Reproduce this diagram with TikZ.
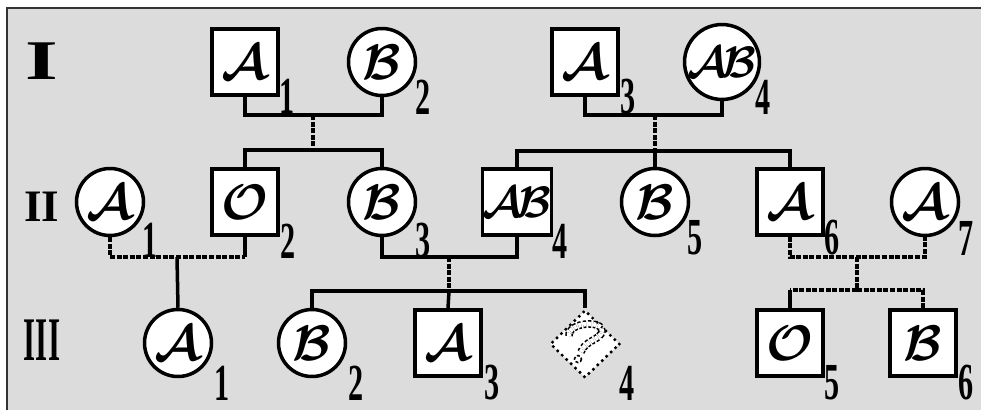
\documentclass[tikz,border=0pt]{standalone}
\usepackage{fontspec}
\setmainfont{Liberation Serif}
\usepackage{amsmath}
\usepackage{graphicx}
\usetikzlibrary{shapes.geometric}
\definecolor{bg}{RGB}{220,220,220}
\newcommand\dgt[1]{\scalebox{0.58}[1]{#1}}
\newcommand\bgt[1]{\scalebox{5}{$\boldsymbol{\mathcal{#1}}$}}
\newcommand\bgtab{\scalebox{4.4}{$\boldsymbol{\mathcal{A}\mkern-2mu\mathcal{B}}$}}
\begin{document}
\begin{tikzpicture}[x=1pt,y=-1pt,
  sq/.style={draw, line width=3.5pt, fill=white, minimum size=66pt, inner sep=0pt},
  ci/.style={draw, circle, line width=3.5pt, fill=white, minimum size=67pt, inner sep=0pt},
  ln/.style={line width=3.5pt},
  dln/.style={line width=3.5pt, dash pattern=on 5pt off 1.6pt},
  num/.style={inner sep=0pt, font=\fontsize{52}{52}\selectfont\bfseries},
  gen/.style={inner sep=0pt}]
\useasboundingbox (0,0) rectangle (981,410);
\fill[bg] (7,8) rectangle (981,410);
\draw[line width=2pt, black!80] (7,410) -- (7,8) -- (981,8);

% Generation labels
\node[gen, font=\fontsize{56}{56}\selectfont\bfseries] (gI) at (42,61) {\scalebox{1.5}[1]{I}};
\node[gen, font=\fontsize{45}{45}\selectfont\bfseries] (gII) at (42,207) {II};
\node[gen, font=\fontsize{62}{62}\selectfont\bfseries] (gIII) at (42,340) {\scalebox{0.5}[1]{III}};

% Generation I
\node[sq] (I1) at (245,62) {\bgt{A}};
\node[ci] (I2) at (382,62) {\bgt{B}};
\node[sq] (I3) at (585,62) {\bgt{A}};
\node[ci] (I4) at (722,62) {\bgtab};

% Generation II
\node[ci] (II1) at (110,202) {\bgt{A}};
\node[sq] (II2) at (245,202) {\bgt{O}};
\node[ci] (II3) at (382,202) {\bgt{B}};
\node[sq] (II4) at (517,202) {\bgtab};
\node[ci] (II5) at (655,202) {\bgt{B}};
\node[sq] (II6) at (790,202) {\bgt{A}};
\node[ci] (II7) at (925,202) {\bgt{A}};

% Generation III
\node[ci] (III1) at (178,343) {\bgt{A}};
\node[ci] (III2) at (312,343) {\bgt{B}};
\node[sq] (III3) at (448,343) {\bgt{A}};
\node[draw, shape=diamond, fill=white, minimum width=70pt, minimum height=68pt, inner sep=0pt,
      line width=3.4pt, dash pattern=on 0pt off 6.2pt, line cap=round] (III4) at (585,344) {};
\node[sq] (III5) at (790,343) {\bgt{O}};
\node[sq] (III6) at (923,343) {\bgt{B}};

% question mark (outlined, dashed)
\draw[double=white, double distance=4.5pt, line width=1.6pt, dash pattern=on 3pt off 2pt]
  (569,336) .. controls (568,322) and (603,320) .. (602,331)
  .. controls (601,340) and (585,340) .. (581,352);
\draw[line width=1.6pt, dash pattern=on 3pt off 2pt, fill=white] (578,359) circle (3.5);

% connector coordinates
\coordinate (m1) at (313,115);
\coordinate (s1) at (313,150);
\coordinate (m2) at (655,115);
\coordinate (s2) at (655,151);
\coordinate (m3) at (177,257);
\coordinate (m4) at (449,257);
\coordinate (s4) at (449,291);
\coordinate (m5) at (857,257);
\coordinate (s5) at (857,290);

% I1 x I2
\draw[ln] (I1.south) |- (m1) -| (I2.south);
\draw[dln] (m1) -- (s1);
\draw[ln] (II2.north) |- (s1) -| (II3.north);
% I3 x I4
\draw[ln] (I3.south) |- (m2) -| (I4.south);
\draw[dln] (m2) -- (s2);
\draw[ln] (II4.north) |- (s2) -| (II6.north);
\draw[ln] (s2) -- (II5.north);
% II1 x II2
\draw[dln] (II1.south) |- (m3) -- (m3 -| II2.south);
\draw[ln] (m3 -| II2.south) -- (II2.south);
\draw[ln] (m3) -- (III1.north);
% II3 x II4
\draw[ln] (II3.south) |- (m4) -| (II4.south);
\draw[dln] (m4) -- (s4);
\draw[ln] (III2.north) |- (s4) -| (III4.north);
\draw[ln] (s4) -- (III3.north);
% II6 x II7
\draw[dln] (II6.south) |- (m5) -| (II7.south);
\draw[dln] (m5) -- (s5);
\draw[dln] (s5) -| (III6.north);
\draw[dln] (s5) -- (s5 -| III5.north);
\draw[ln] (s5 -| III5.north) -- (III5.north);

% numbers
\node[num] (nI1) at (287,96) {\dgt{1}};
\node[num] (nI2) at (423,97) {\dgt{2}};
\node[num] (nI3) at (628,97) {\dgt{3}};
\node[num] (nI4) at (763,97) {\dgt{4}};
\node[num] (nII1) at (150,240) {\dgt{1}};
\node[num] (nII2) at (288,241) {\dgt{2}};
\node[num] (nII3) at (423,241) {\dgt{3}};
\node[num] (nII4) at (560,241) {\dgt{4}};
\node[num] (nII5) at (695,238) {\dgt{5}};
\node[num] (nII6) at (832,238) {\dgt{6}};
\node[num] (nII7) at (966,238) {\dgt{7}};
\node[num] (nIII1) at (222,383) {\dgt{1}};
\node[num] (nIII2) at (356,383) {\dgt{2}};
\node[num] (nIII3) at (492,383) {\dgt{3}};
\node[num] (nIII4) at (627,383) {\dgt{4}};
\node[num] (nIII5) at (832,383) {\dgt{5}};
\node[num] (nIII6) at (966,383) {\dgt{6}};
\end{tikzpicture}
\end{document}
